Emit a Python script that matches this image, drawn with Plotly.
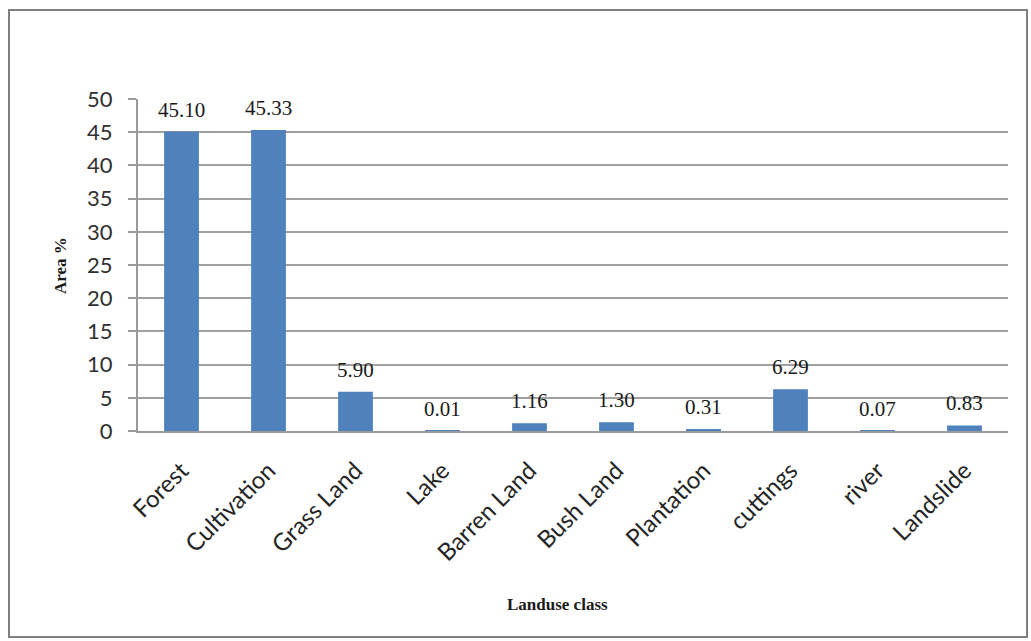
import plotly.graph_objects as go

# Land use share of the study area
classes = ["Forest", "Cultivation", "Grass Land", "Lake", "Barren Land",
           "Bush Land", "Plantation", "cuttings", "river", "Landslide"]
area_pct = [45.10, 45.33, 5.90, 0.01, 1.16, 1.30, 0.31, 6.29, 0.07, 0.83]
y_ticks = [0, 5, 10, 15, 20, 25, 30, 35, 40, 45, 50]

W, H = 1031, 641
ML, MR, MT, MB = 138, 23, 99, 210
PW, PH = W - ML - MR, H - MT - MB

SERIF = "Liberation Serif"
SANS = "Lato"

fig = go.Figure()
fig.add_trace(go.Bar(
    x=classes, y=area_pct,
    marker=dict(color="#4F81BD", line=dict(width=0)),
    width=0.4,
    hoverinfo="x+y",
))

# value labels above each bar
for c, v in zip(classes, area_pct):
    fig.add_annotation(
        x=c, y=v, text=f"{v:.2f}", showarrow=False,
        yanchor="bottom", yshift=8,
        font=dict(family=SERIF, size=21, color="#1a1a1a"),
    )


def px_x(p):
    return (p - ML) / PW


def px_y(p):
    return (H - MB - p) / PH


# outer chart frame
fig.add_shape(type="rect", xref="paper", yref="paper",
              x0=px_x(9), x1=px_x(1027), y0=px_y(637), y1=px_y(10),
              line=dict(color="#7f7f7f", width=2), fillcolor="rgba(0,0,0,0)",
              layer="below")

# axis titles
fig.add_annotation(xref="paper", yref="paper", x=px_x(557), y=px_y(604),
                   text="<b>Landuse class</b>", showarrow=False,
                   xanchor="center", yanchor="middle",
                   font=dict(family=SERIF, size=17, color="#1a1a1a"))
fig.add_annotation(xref="paper", yref="paper", x=px_x(60), y=px_y(266),
                   text="<b>Area %</b>", showarrow=False, textangle=-90,
                   xanchor="center", yanchor="middle",
                   font=dict(family=SERIF, size=17, color="#1a1a1a"))

fig.update_layout(
    width=W, height=H,
    margin=dict(l=ML, r=MR, t=MT, b=MB),
    paper_bgcolor="white", plot_bgcolor="white",
    showlegend=False,
    xaxis=dict(
        tickangle=-45,
        tickfont=dict(family=SANS, size=24, color="#252525"),
        showline=True, linecolor="#9a9a9a", linewidth=2,
        showgrid=False, ticks="",
        ticklabelstandoff=14,
    ),
    yaxis=dict(
        range=[0, 50], tickvals=y_ticks,
        tickfont=dict(family=SANS, size=22, color="#303030"),
        showgrid=True, gridcolor="#a0a0a0", gridwidth=1.5,
        showline=True, linecolor="#9a9a9a", linewidth=2,
        ticks="outside", ticklen=8, tickcolor="#9a9a9a", tickwidth=1.5,
        ticklabelstandoff=11,
        zeroline=False,
    ),
)

fig.write_html("out.html")
